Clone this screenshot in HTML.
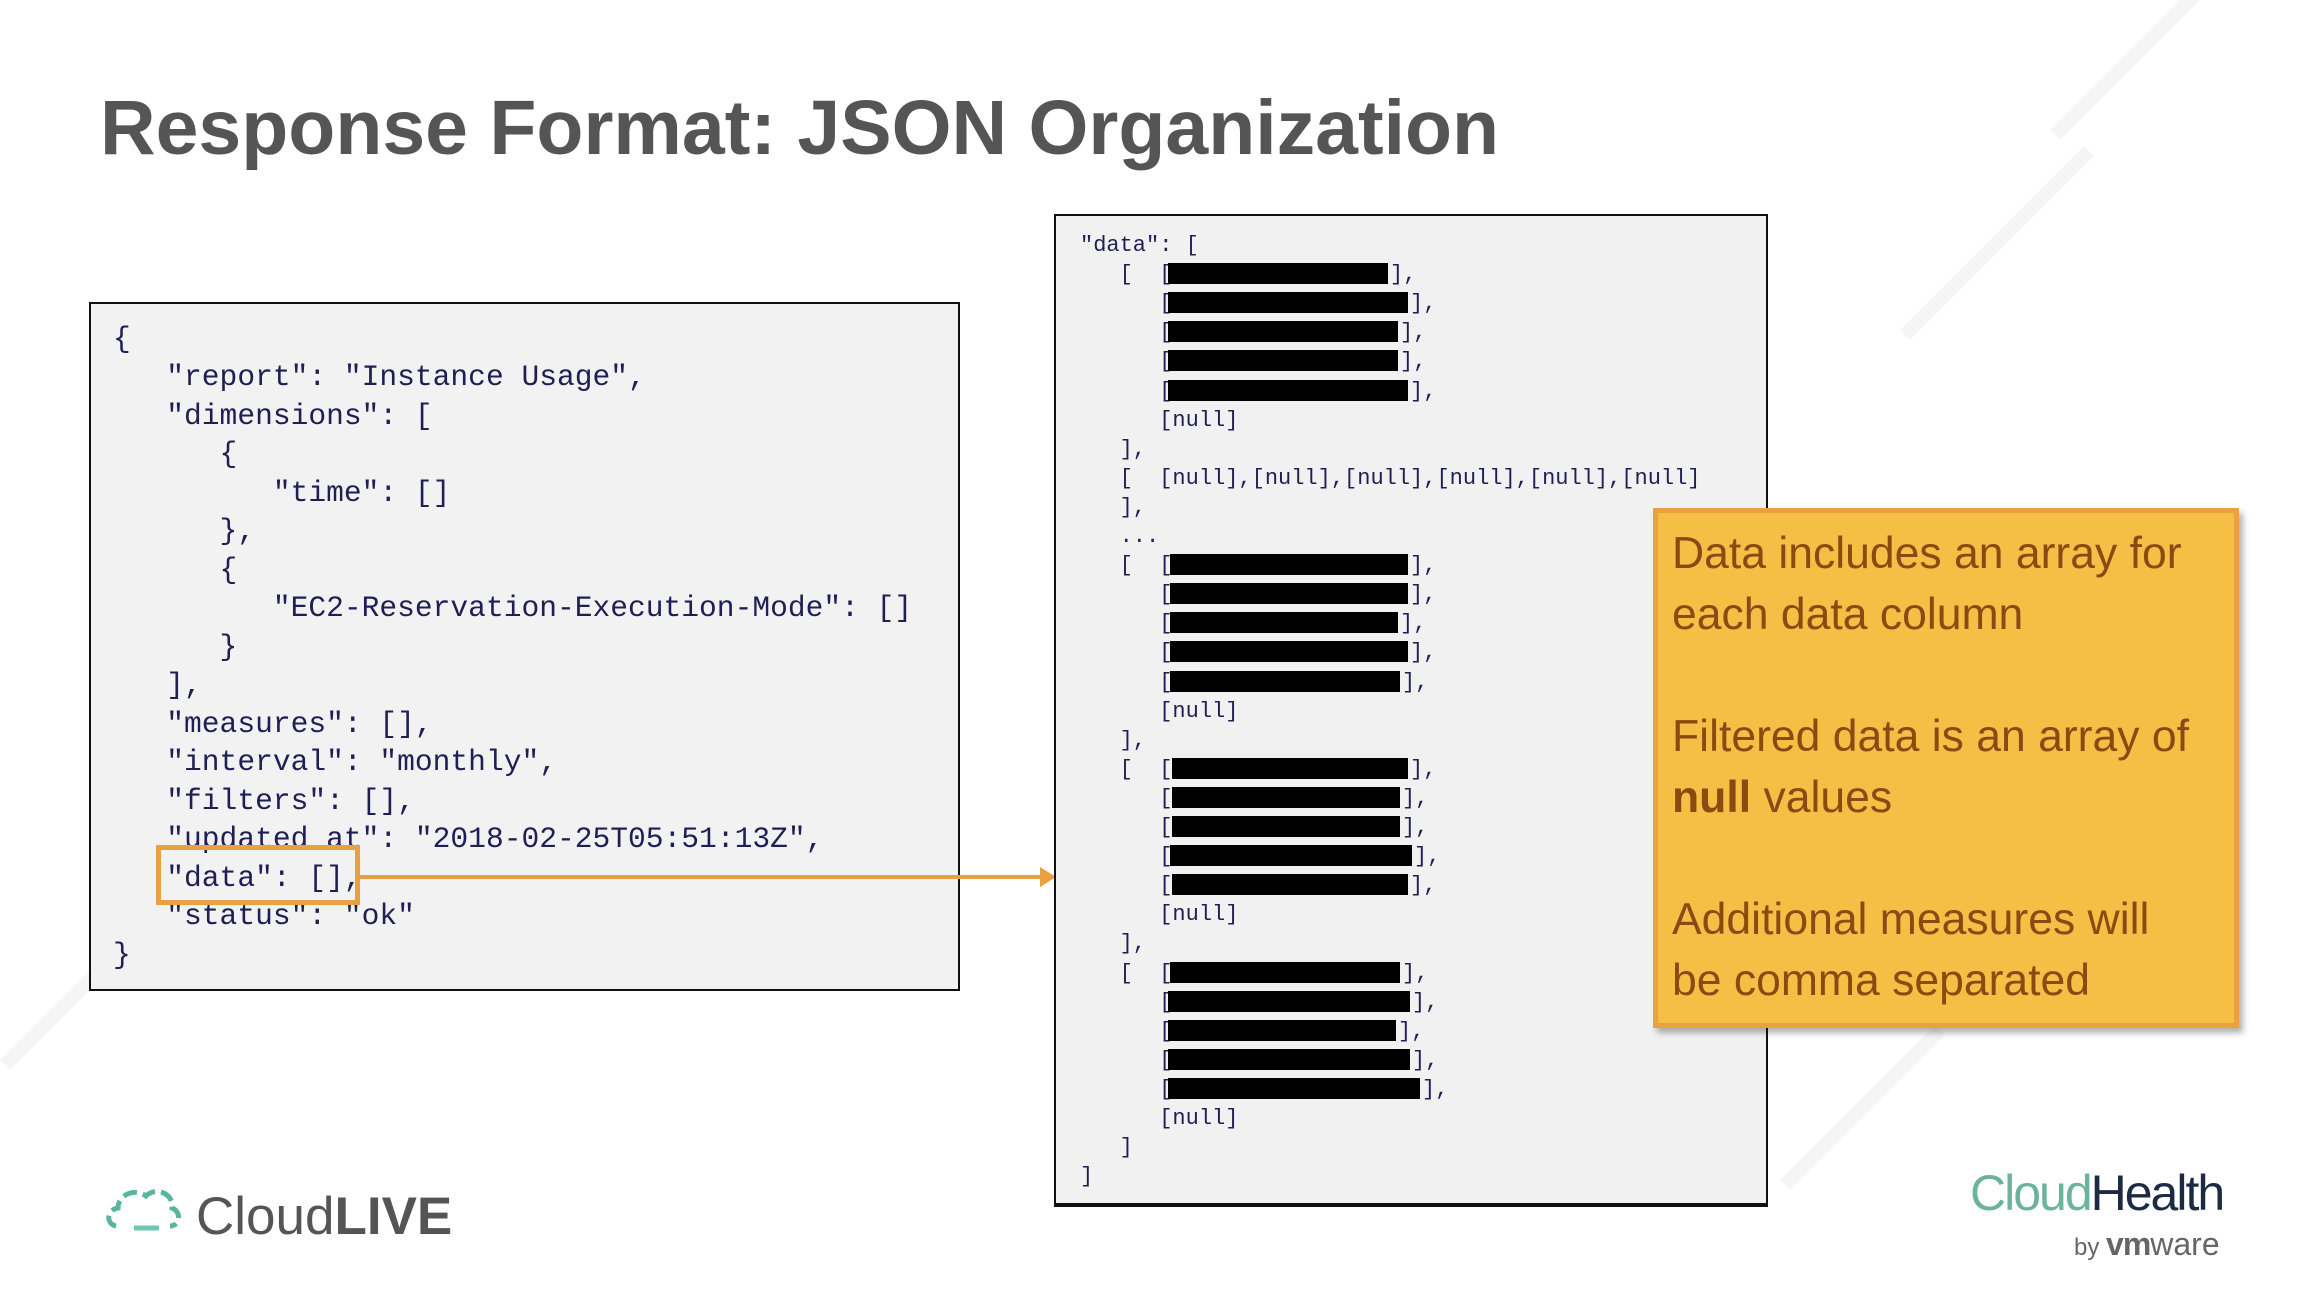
<!DOCTYPE html>
<html><head><meta charset="utf-8"><style>
body{margin:0;width:2310px;height:1300px;position:relative;overflow:hidden;background:#fff;font-family:"Liberation Sans",sans-serif}
.t{position:absolute;white-space:pre;line-height:1}
.c{position:absolute;white-space:pre;font-family:"Liberation Mono",monospace;color:#1f1f55;line-height:1}
.l{font-size:29.6px}
.r{font-size:22px}
.bar{position:absolute;background:#000;height:21px}
.stripe{position:absolute;background:#f5f5f5;height:14px;transform-origin:0 0}
</style></head><body>
<div class="stripe" style="left:1900px;top:330px;width:260px;transform:rotate(-45deg)"></div>
<div class="stripe" style="left:2050px;top:130px;width:220px;transform:rotate(-45deg)"></div>
<div class="stripe" style="left:0px;top:1060px;width:200px;transform:rotate(-45deg)"></div>
<div class="stripe" style="left:1780px;top:1180px;width:220px;transform:rotate(-45deg)"></div>

<div class="t" style="left:100px;top:90px;font-size:77px;font-weight:bold;color:#555">Response Format: JSON Organization</div>

<div style="position:absolute;left:89px;top:302px;width:867px;height:685px;background:#f2f2f2;border:2px solid #111"></div>
<div class="c l" style="left:113px;top:325px">{</div>
<div class="c l" style="left:113px;top:363px">   "report": "Instance Usage",</div>
<div class="c l" style="left:113px;top:402px">   "dimensions": [</div>
<div class="c l" style="left:113px;top:440px">      {</div>
<div class="c l" style="left:113px;top:479px">         "time": []</div>
<div class="c l" style="left:113px;top:517px">      },</div>
<div class="c l" style="left:113px;top:556px">      {</div>
<div class="c l" style="left:113px;top:594px">         "EC2-Reservation-Execution-Mode": []</div>
<div class="c l" style="left:113px;top:633px">      }</div>
<div class="c l" style="left:113px;top:671px">   ],</div>
<div class="c l" style="left:113px;top:710px">   "measures": [],</div>
<div class="c l" style="left:113px;top:748px">   "interval": "monthly",</div>
<div class="c l" style="left:113px;top:787px">   "filters": [],</div>
<div class="c l" style="left:113px;top:825px">   "updated_at": "2018-02-25T05:51:13Z",</div>
<div class="c l" style="left:113px;top:864px">   "data": [],</div>
<div class="c l" style="left:113px;top:902px">   "status": "ok"</div>
<div class="c l" style="left:113px;top:941px">}</div>
<div style="position:absolute;left:156px;top:845px;box-sizing:border-box;width:204px;height:60px;border:5px solid #e8a040"></div>
<div style="position:absolute;left:360px;top:875px;width:682px;height:4px;background:#e8a040"></div>
<div style="position:absolute;left:1040px;top:867px;width:0;height:0;border-left:16px solid #e8a040;border-top:10px solid transparent;border-bottom:10px solid transparent"></div>

<div style="position:absolute;left:1054px;top:214px;width:710px;height:987px;background:#f1f1f1;border:2px solid #111;border-bottom-width:4px"></div>
<div id="rb"></div>
<script>
var lines=['"data": [','   [  [','      [','      [','      [','      [','      [null]','   ],','   [  [null],[null],[null],[null],[null],[null]','   ],','   ...','   [  [','      [','      [','      [','      [','      [null]','   ],','   [  [','      [','      [','      [','      [','      [null]','   ],','   [  [','      [','      [','      [','      [','      [null]','   ]',']'];
var bars={1:[1168,1388,'],'],2:[1168,1408,'],'],3:[1168,1398,'],'],4:[1168,1398,'],'],5:[1168,1408,'],'],
11:[1170,1408,'],'],12:[1170,1408,'],'],13:[1170,1398,'],'],14:[1170,1408,'],'],15:[1170,1400,'],'],
18:[1172,1408,'],'],19:[1172,1400,'],'],20:[1172,1400,'],'],21:[1170,1412,'],'],22:[1172,1408,'],'],
25:[1170,1400,'],'],26:[1168,1410,'],'],27:[1168,1396,'],'],28:[1168,1410,'],'],29:[1168,1420,'],']};
var h='';
for(var i=0;i<lines.length;i++){var y=235+i*29.1;
h+='<div class="c r" style="left:1080px;top:'+y+'px">'+lines[i]+'</div>';
if(bars[i]){var b=bars[i];h+='<div class="bar" style="left:'+b[0]+'px;top:'+(y-1)+'px;width:'+(b[1]-b[0])+'px"></div>';
h+='<div class="c r" style="left:'+(b[1]+2)+'px;top:'+y+'px">'+b[2]+'</div>';}}
document.getElementById('rb').innerHTML=h;
</script>

<div style="position:absolute;left:1653px;top:508px;width:586px;height:520px;background:#f5bf45;border:5px solid #e9a23e;box-sizing:border-box;box-shadow:4px 5px 6px rgba(0,0,0,0.3)"></div>
<div class="t" style="left:1672px;top:523px;font-size:44.5px;color:#8a4a12;line-height:61px">Data includes an array for
each data column

Filtered data is an array of
<b>null</b> values

Additional measures will
be comma separated</div>

<svg style="position:absolute;left:104px;top:1180px" width="80" height="60" viewBox="0 0 80 60">
<path d="M12 46 C2 44 2 30 14 28 C14 14 32 8 42 16 C52 6 70 14 68 28 C78 32 76 46 66 46" fill="none" stroke="#5ab5a0" stroke-width="5" stroke-dasharray="14 6"/>
<line x1="30" y1="48" x2="55" y2="48" stroke="#6cc9b0" stroke-width="5"/></svg>
<div class="t" style="left:196px;top:1190px;font-size:53px;color:#555">Cloud<b>LIVE</b></div>
<div class="t" style="left:1970px;top:1168px;font-size:50px;letter-spacing:-2px"><span style="color:#6bb39a">Cloud</span><span style="color:#1d2a44">Health</span></div>
<div class="t" style="left:2074px;top:1228px;font-size:24px;color:#666">by <b style="font-size:32px;letter-spacing:-1px">vm</b><span style="font-size:32px">ware</span></div>
</body></html>
